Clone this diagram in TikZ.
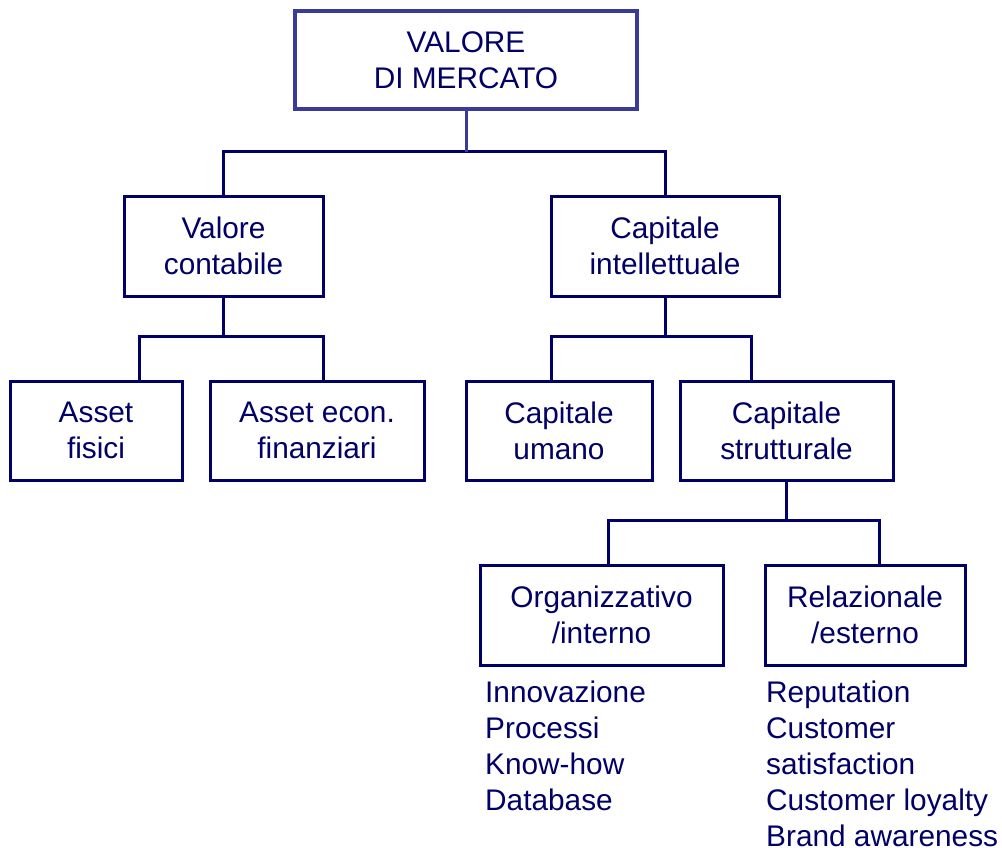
\documentclass[tikz,border=0pt]{standalone}
\usepackage{fontspec}
\setmainfont{Liberation Sans}
\usetikzlibrary{calc}
\definecolor{navy}{HTML}{000066}
\definecolor{topblue}{HTML}{3A3A9A}
\tikzset{
  box/.style={draw=navy, line width=3pt, fill=white, text=navy, align=center,
    inner sep=0pt, minimum height=99pt,
    font=\fontsize{29.8}{36}\selectfont},
  conn/.style={draw=navy, line width=3pt},
  listtxt/.style={text=navy, align=left, inner sep=0pt, anchor=north west,
    font=\fontsize{29.8}{36}\selectfont},
}
\begin{document}
\begin{tikzpicture}[x=1pt,y=1pt]
\useasboundingbox (0,0) rectangle (1002,-847);
% boxes
\node[box, draw=topblue, line width=3.5pt, minimum width=342pt, minimum height=98pt] (top) at (466,-60) {VALORE\\DI MERCATO};
\node[box, minimum width=199pt, minimum height=100pt] (vc) at (223.5,-246) {Valore\\contabile};
\node[box, minimum width=228pt, minimum height=100pt] (ci) at (665,-246) {Capitale\\intellettuale};
\node[box, minimum width=172pt] (af) at (96,-430.5) {Asset\\fisici};
\node[box, minimum width=214pt] (ae) at (317,-430.5) {Asset econ.\\finanziari};
\node[box, minimum width=186pt] (cu) at (559,-430.5) {Capitale\\umano};
\node[box, minimum width=213pt] (cs) at (786.5,-430.5) {Capitale\\strutturale};
\node[box, minimum width=243pt, minimum height=100pt] (org) at (601.5,-615) {Organizzativo\\/interno};
\node[box, minimum width=200pt, minimum height=100pt] (rel) at (865,-615) {Relazionale\\/esterno};
% connectors
\draw[conn] (vc.north) -- ++(0,43) coordinate (h1) -| (ci.north);
\draw[conn, draw=topblue] (top.south) -- (top.south |- h1);
\draw[conn] ($(af.north)+(43,0)$) -- ++(0,43) coordinate (h2) -| ($(ae.north)+(6,0)$);
\draw[conn] (vc.south) -- (vc.south |- h2);
\draw[conn] ($(cu.north)+(-8,0)$) -- ++(0,43) coordinate (h3) -| ($(cs.north)+(-35.5,0)$);
\draw[conn] (ci.south) -- (ci.south |- h3);
\draw[conn] ($(org.north)+(6.5,0)$) -- ++(0,43) coordinate (h4) -| ($(rel.north)+(14,0)$);
\draw[conn] (cs.south) -- (cs.south |- h4);
% lists
\node[listtxt] (l1) at (485,-681) {Innovazione\\Processi\\Know-how\\Database};
\node[listtxt] (l2) at (766,-681) {Reputation\\Customer\\satisfaction\\Customer loyalty\\Brand awareness};
\end{tikzpicture}
\end{document}
